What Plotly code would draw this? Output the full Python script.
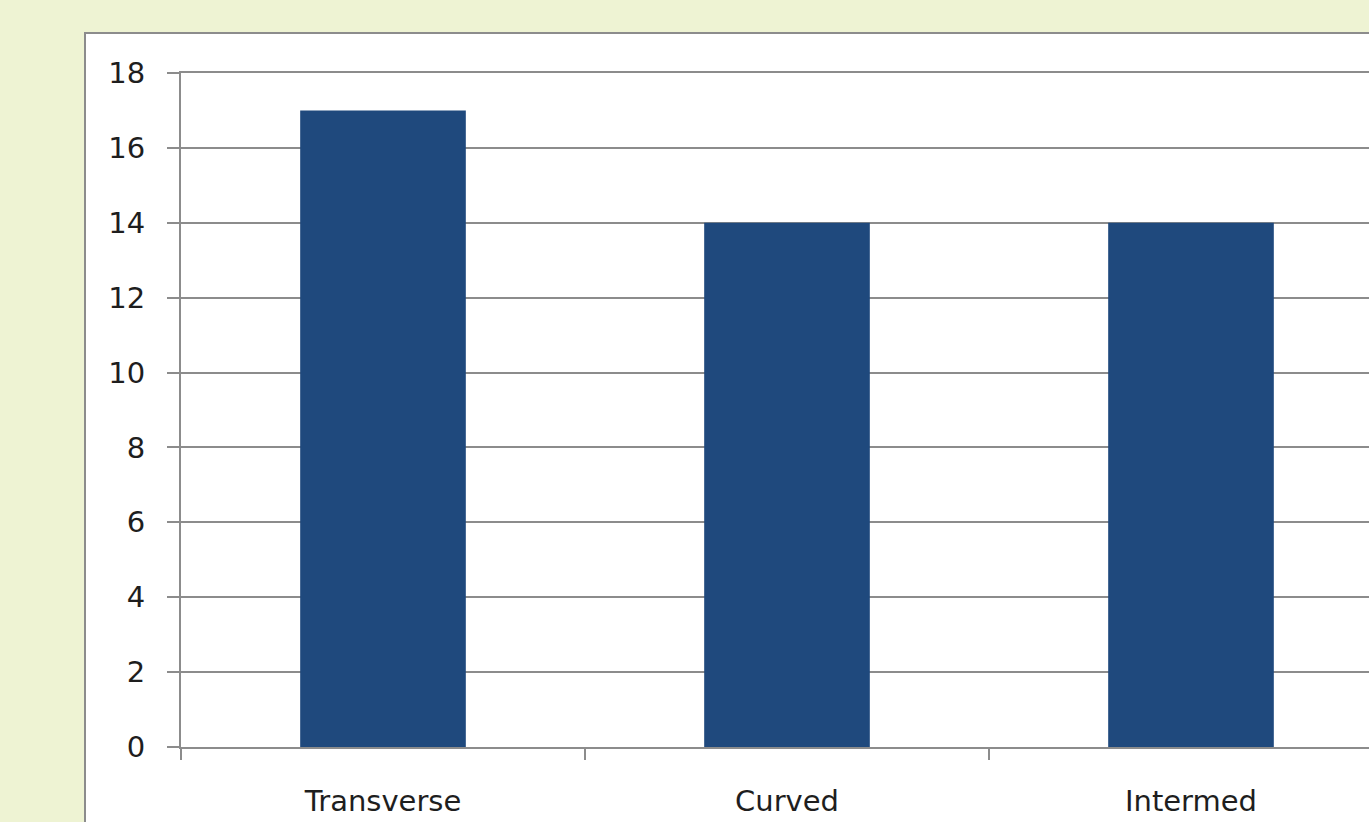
import plotly.graph_objects as go

# Counts per category
categories = ["Transverse", "Curved", "Intermed"]
counts = [17, 14, 14]
y_ticks = [0, 2, 4, 6, 8, 10, 12, 14, 16, 18]

W, H = 1369, 822
ML, MR, MT, MB = 181, 0, 73, 75
plot_w = W - ML - MR
plot_h = H - MT - MB

axis_gray = "#8c8c8c"
font = dict(family="DejaVu Sans", size=29, color="#1e1e1e")

fig = go.Figure(
    go.Bar(
        x=categories,
        y=counts,
        width=0.41,
        marker=dict(color="#1f497d", line=dict(width=0)),
        hoverinfo="x+y",
    )
)

# White chart panel with a thin grey frame
fig.add_shape(
    type="rect",
    xref="paper", yref="paper",
    x0=(85 - ML) / plot_w, x1=1.2,
    y0=-0.3, y1=(H - MB - 33) / plot_h,
    fillcolor="white",
    line=dict(color=axis_gray, width=2),
    layer="below",
)

fig.update_layout(
    width=W, height=H,
    margin=dict(l=ML, r=MR, t=MT, b=MB),
    paper_bgcolor="#eef3d3",
    plot_bgcolor="rgba(0,0,0,0)",
    showlegend=False,
    bargap=0.59,
    font=font,
    xaxis=dict(
        type="category",
        range=[-0.5, -0.5 + plot_w / 404],
        tickson="boundaries",
        ticks="outside",
        ticklen=11,
        tickwidth=2,
        tickcolor=axis_gray,
        showline=True,
        mirror=True,
        linecolor=axis_gray,
        linewidth=2,
        showgrid=False,
        ticklabelstandoff=27,
        tickfont=font,
    ),
    yaxis=dict(
        range=[0, 18],
        tickvals=y_ticks,
        ticks="outside",
        ticklen=12,
        tickwidth=2,
        tickcolor=axis_gray,
        showline=True,
        linecolor=axis_gray,
        linewidth=2,
        showgrid=True,
        gridcolor=axis_gray,
        gridwidth=2,
        zeroline=False,
        ticklabelstandoff=16,
        tickfont=font,
    ),
)

fig.write_html("out.html")
